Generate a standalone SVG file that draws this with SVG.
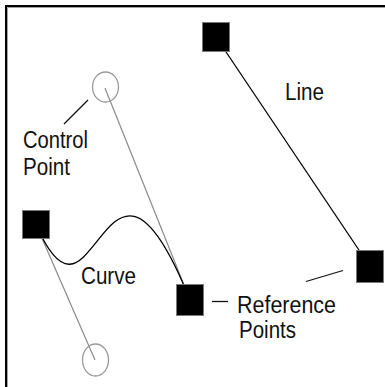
<svg xmlns="http://www.w3.org/2000/svg" width="385" height="387" viewBox="0 0 385 387">
<style>
.lbl{font-family:"Liberation Sans",Arial,sans-serif;font-size:23px;fill:#111}
.sq{fill:#000;stroke:#7a7a7a;stroke-width:1}
.cp{fill:none;stroke:#9a9a9a;stroke-width:1.3}
.guide{stroke:#8a8a8a;stroke-width:1.2;fill:none}
.ink{stroke:#000;stroke-width:1.3;fill:none}
.lead{stroke:#111;stroke-width:1.3}
</style>
<rect x="0" y="0" width="385" height="387" fill="#fff"/>
<g id="frame">
<path d="M6 387V6H385" fill="none" stroke="#000" stroke-width="2"/>
<path d="M7.5 387V7.5H385" fill="none" stroke="#a0a0a0" stroke-width="1"/>
</g>
<g id="connectors">
<line class="guide" x1="105" y1="88" x2="190" y2="300"/>
<line class="guide" x1="36" y1="224.5" x2="95" y2="360"/>
<path class="ink" d="M36 224.5C95 360 105 88 190 300"/>
<line class="ink" x1="216" y1="37" x2="370" y2="266.5"/>
<line class="lead" x1="88" y1="100" x2="64" y2="124"/>
<line class="lead" x1="212" y1="301.5" x2="228" y2="301.5"/>
<line class="lead" x1="306" y1="281.5" x2="343" y2="270.5"/>
</g>
<g id="control-top"><ellipse class="cp" cx="105.5" cy="87" rx="13" ry="15"/></g>
<g id="control-bottom"><ellipse class="cp" cx="95.5" cy="360" rx="13" ry="16"/></g>
<g id="ref-left"><rect class="sq" x="22.5" y="210.5" width="27" height="28"/></g>
<g id="ref-middle"><rect class="sq" x="176.5" y="284.5" width="27" height="31"/></g>
<g id="line-top"><rect class="sq" x="202.5" y="22.5" width="27" height="29"/></g>
<g id="line-right"><rect class="sq" x="356.5" y="250.5" width="27" height="32"/></g>
<g id="labels">
<text class="lbl" x="23" y="148" textLength="65" lengthAdjust="spacingAndGlyphs">Control</text>
<text class="lbl" x="23" y="175" textLength="47" lengthAdjust="spacingAndGlyphs">Point</text>
<text class="lbl" x="285" y="100" textLength="39" lengthAdjust="spacingAndGlyphs">Line</text>
<text class="lbl" x="81" y="284" textLength="55" lengthAdjust="spacingAndGlyphs">Curve</text>
<text class="lbl" x="237" y="312.5" textLength="99" lengthAdjust="spacingAndGlyphs">Reference</text>
<text class="lbl" x="239" y="338" textLength="57" lengthAdjust="spacingAndGlyphs">Points</text>
</g>
</svg>
